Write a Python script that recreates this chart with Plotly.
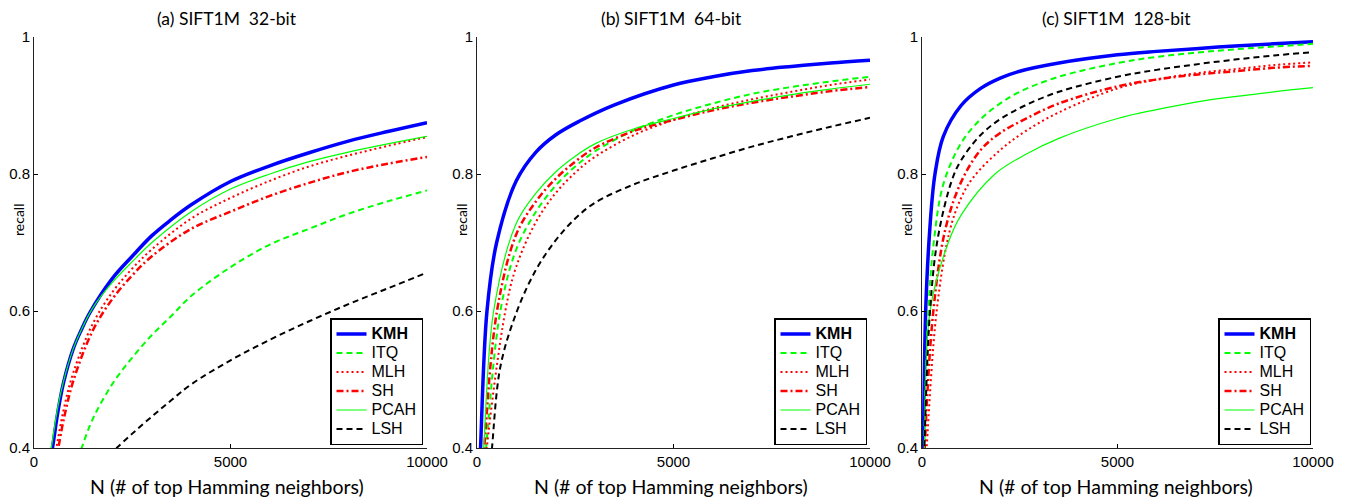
import plotly.graph_objects as go

# ---------------- data ----------------
methods = ["KMH", "ITQ", "MLH", "SH", "PCAH", "LSH"]
panel_titles = ["(a) SIFT1M  32-bit", "(b) SIFT1M  64-bit", "(c) SIFT1M  128-bit"]
x_ticks = [0, 5000, 10000]
x_ticklabels = ["0", "5000", "10000"]
y_ticks = [0.4, 0.6, 0.8, 1.0]
y_ticklabels = ["0.4", "0.6", "0.8", "1"]

# panel (a) 32-bit
a_kmh_x = [350, 470, 600, 750, 1000, 1200, 1425, 2000, 2500, 3000, 3460, 4000, 5000, 6000, 7000, 8000, 9000, 10000]
a_kmh_y = [0.36, 0.40, 0.45, 0.495, 0.545, 0.572, 0.598, 0.648, 0.68, 0.71, 0.732, 0.755, 0.789, 0.812, 0.831, 0.848, 0.862, 0.875]
a_itq_x = [1050, 1213, 1500, 2000, 2500, 3000, 3500, 4000, 5000, 6000, 7000, 8000, 9000, 10000]
a_itq_y = [0.37, 0.40, 0.443, 0.494, 0.532, 0.565, 0.593, 0.622, 0.664, 0.697, 0.72, 0.742, 0.76, 0.776]
a_mlh_x = [450, 570, 750, 1000, 1500, 2000, 2500, 3000, 4000, 5000, 6000, 7000, 8000, 9000, 10000]
a_mlh_y = [0.36, 0.40, 0.455, 0.51, 0.582, 0.628, 0.662, 0.69, 0.735, 0.765, 0.79, 0.811, 0.827, 0.841, 0.854]
a_sh_x = [500, 620, 750, 1000, 1500, 2000, 2500, 3000, 4000, 5000, 6000, 7000, 8000, 9000, 10000]
a_sh_y = [0.36, 0.40, 0.44, 0.498, 0.572, 0.618, 0.652, 0.68, 0.72, 0.745, 0.768, 0.787, 0.803, 0.815, 0.825]
a_pcah_x = [330, 440, 600, 750, 1000, 1200, 1500, 2000, 2500, 3000, 4000, 5000, 6000, 7000, 8000, 9000, 10000]
a_pcah_y = [0.36, 0.40, 0.458, 0.497, 0.545, 0.572, 0.605, 0.642, 0.672, 0.70, 0.745, 0.778, 0.80, 0.818, 0.832, 0.844, 0.855]
a_lsh_x = [1900, 2100, 2500, 3000, 3500, 4000, 5000, 6000, 7000, 8000, 9000, 10000]
a_lsh_y = [0.39, 0.40, 0.421, 0.446, 0.47, 0.493, 0.528, 0.558, 0.585, 0.61, 0.633, 0.656]

# panel (b) 64-bit
b_kmh_x = [50, 90, 254, 500, 1000, 1500, 2000, 2600, 3500, 5000, 6000, 7000, 8000, 9000, 10000]
b_kmh_y = [0.34, 0.40, 0.60, 0.70, 0.79, 0.832, 0.857, 0.877, 0.901, 0.93, 0.942, 0.951, 0.957, 0.962, 0.966]
b_itq_x = [150, 230, 594, 1000, 1500, 2000, 2500, 3000, 4000, 5000, 6000, 7000, 8000, 9000, 10000]
b_itq_y = [0.34, 0.40, 0.60, 0.69, 0.745, 0.783, 0.811, 0.833, 0.864, 0.886, 0.903, 0.917, 0.927, 0.935, 0.942]
b_mlh_x = [180, 250, 721, 1000, 1500, 2000, 2500, 3000, 4000, 5000, 6000, 7000, 8000, 9000, 10000]
b_mlh_y = [0.34, 0.40, 0.60, 0.665, 0.73, 0.772, 0.802, 0.825, 0.857, 0.879, 0.896, 0.909, 0.92, 0.93, 0.938]
b_sh_x = [120, 185, 509, 1000, 1500, 2000, 2500, 3000, 4000, 5000, 6000, 7000, 8000, 9000, 10000]
b_sh_y = [0.34, 0.40, 0.60, 0.712, 0.76, 0.793, 0.818, 0.838, 0.863, 0.879, 0.893, 0.904, 0.913, 0.921, 0.927]
b_pcah_x = [100, 170, 424, 1000, 1500, 2000, 2500, 3000, 4000, 5000, 6000, 7000, 8000, 9000, 10000]
b_pcah_y = [0.34, 0.40, 0.60, 0.728, 0.772, 0.803, 0.826, 0.844, 0.866, 0.881, 0.895, 0.906, 0.916, 0.924, 0.931]
b_lsh_x = [300, 382, 600, 1018, 1500, 2000, 2500, 3000, 4000, 5000, 6000, 7000, 8000, 9000, 10000]
b_lsh_y = [0.34, 0.40, 0.52, 0.60, 0.66, 0.703, 0.735, 0.758, 0.785, 0.805, 0.823, 0.84, 0.855, 0.869, 0.882]

# panel (c) 128-bit
c_kmh_x = [10, 34, 94, 200, 332, 546, 1000, 1500, 2000, 2500, 3500, 5000, 6000, 7000, 8000, 9000, 10000]
c_kmh_y = [0.33, 0.40, 0.60, 0.72, 0.80, 0.855, 0.90, 0.925, 0.94, 0.95, 0.962, 0.974, 0.979, 0.983, 0.987, 0.99, 0.993]
c_itq_x = [20, 50, 162, 300, 546, 1000, 1500, 2000, 2500, 3500, 5000, 6000, 7000, 8000, 9000, 10000]
c_itq_y = [0.33, 0.40, 0.60, 0.70, 0.785, 0.845, 0.88, 0.903, 0.92, 0.942, 0.962, 0.971, 0.977, 0.982, 0.986, 0.99]
c_mlh_x = [50, 119, 375, 700, 1000, 1313, 2000, 2634, 3500, 5000, 6000, 7000, 8000, 9000, 10000]
c_mlh_y = [0.33, 0.40, 0.60, 0.715, 0.765, 0.795, 0.835, 0.862, 0.89, 0.925, 0.938, 0.947, 0.953, 0.959, 0.963]
c_sh_x = [40, 70, 290, 600, 1014, 1500, 2000, 2634, 3500, 5000, 6000, 7000, 8000, 9000, 10000]
c_sh_y = [0.33, 0.40, 0.60, 0.72, 0.79, 0.835, 0.86, 0.88, 0.903, 0.928, 0.938, 0.945, 0.95, 0.955, 0.958]
c_pcah_x = [30, 60, 205, 673, 1000, 1867, 2634, 3500, 5000, 6000, 7000, 8000, 9000, 10000]
c_pcah_y = [0.33, 0.40, 0.60, 0.70, 0.74, 0.80, 0.828, 0.852, 0.881, 0.894, 0.905, 0.913, 0.92, 0.926]
c_lsh_x = [30, 60, 205, 400, 759, 1000, 1500, 2000, 2634, 3500, 5000, 6000, 7000, 8000, 9000, 10000]
c_lsh_y = [0.33, 0.40, 0.60, 0.705, 0.79, 0.82, 0.857, 0.88, 0.90, 0.92, 0.942, 0.952, 0.96, 0.967, 0.973, 0.978]

panels = [
    [(a_kmh_x, a_kmh_y), (a_itq_x, a_itq_y), (a_mlh_x, a_mlh_y), (a_sh_x, a_sh_y), (a_pcah_x, a_pcah_y), (a_lsh_x, a_lsh_y)],
    [(b_kmh_x, b_kmh_y), (b_itq_x, b_itq_y), (b_mlh_x, b_mlh_y), (b_sh_x, b_sh_y), (b_pcah_x, b_pcah_y), (b_lsh_x, b_lsh_y)],
    [(c_kmh_x, c_kmh_y), (c_itq_x, c_itq_y), (c_mlh_x, c_mlh_y), (c_sh_x, c_sh_y), (c_pcah_x, c_pcah_y), (c_lsh_x, c_lsh_y)],
]

# ---------------- styles ----------------
styles = {
    "KMH": dict(color="#0000ff", width=3.5, dash="solid"),
    "ITQ": dict(color="#00ff00", width=2, dash="6px,4px"),
    "MLH": dict(color="#ff0000", width=2, dash="2px,3px"),
    "SH": dict(color="#ff0000", width=2.5, dash="7px,3px,2px,3px"),
    "PCAH": dict(color="#00ff00", width=1.2, dash="solid"),
    "LSH": dict(color="#000000", width=2, dash="6px,4px"),
}

W, H = 1351, 499
px_x = [(34, 427), (477, 870), (922, 1313)]
text_cx = [227, 671, 1116]
py_top, py_bot = 37, 448
legend_right = [423, 867, 1311]
legend_bottom = 445
LEG_TXT = 'font-size:16px'

fig = go.Figure()
for p, series in enumerate(panels):
    sfx = "" if p == 0 else str(p + 1)
    leg = "legend" if p == 0 else f"legend{p + 1}"
    for m, (xs, ys) in zip(methods, series):
        label = f"<b>{m}</b>" if m == "KMH" else m
        fig.add_trace(go.Scatter(
            x=xs, y=ys, mode="lines", line_shape="spline",
            line=styles[m],
            name=f'<span style="{LEG_TXT}">{label}</span>',
            xaxis="x" + sfx, yaxis="y" + sfx, legend=leg,
        ))

layout = dict(
    width=W, height=H,
    margin=dict(l=0, r=0, t=0, b=0, pad=0),
    paper_bgcolor="white", plot_bgcolor="white",
    font=dict(family="Liberation Sans, Arial", size=15, color="black"),
    showlegend=True,
)
annotations = []
for p in range(3):
    sfx = "" if p == 0 else str(p + 1)
    x0, x1 = px_x[p]
    layout["xaxis" + sfx] = dict(
        domain=[x0 / W, x1 / W], range=[0, 10000], anchor="y" + sfx,
        tickvals=x_ticks, ticktext=x_ticklabels, automargin=False,
        ticks="inside", ticklen=4, tickcolor="black",
        showline=True, linecolor="#222", linewidth=1,
        showgrid=False, zeroline=False, mirror=False,
        tickfont=dict(size=15, family="Liberation Sans, Arial"),
    )
    layout["yaxis" + sfx] = dict(
        domain=[1 - py_bot / H, 1 - py_top / H], range=[0.4, 1.0], anchor="x" + sfx,
        tickvals=y_ticks, ticktext=y_ticklabels, automargin=False,
        ticks="inside", ticklen=4, tickcolor="black",
        showline=True, linecolor="#222", linewidth=1,
        showgrid=False, zeroline=False, mirror=False,
        tickfont=dict(size=15, family="Liberation Sans, Arial"),
    )
    leg = "legend" if p == 0 else f"legend{p + 1}"
    layout[leg] = dict(
        x=legend_right[p] / W, xanchor="right",
        y=1 - legend_bottom / H, yanchor="bottom",
        bgcolor="white", bordercolor="black", borderwidth=1.5,
        font=dict(size=12, family="Liberation Sans, Arial"),
        itemwidth=30, tracegroupgap=0,
    )
    cx = text_cx[p]
    annotations.append(dict(text=panel_titles[p], x=cx / W, y=1 - 18 / H, xref="paper", yref="paper",
                            showarrow=False, font=dict(size=17.5, family="Lato, Open Sans"),
                            xanchor="center", yanchor="middle"))
    annotations.append(dict(text="N (# of top Hamming neighbors)", x=cx / W, y=1 - 486 / H,
                            xref="paper", yref="paper", showarrow=False,
                            font=dict(size=19.5, family="Lato, Open Sans"),
                            xanchor="center", yanchor="middle"))
    annotations.append(dict(text="recall", x=(x0 - 16) / W, y=1 - 220 / H, xref="paper", yref="paper",
                            showarrow=False, textangle=-90, font=dict(size=14, family="Lato, Open Sans"),
                            xanchor="center", yanchor="middle"))
layout["annotations"] = annotations
fig.update_layout(**layout)
fig.write_html("out.html", config={"displayModeBar": False},
               post_script="document.body.style.margin='0';document.body.style.overflow='hidden';")
